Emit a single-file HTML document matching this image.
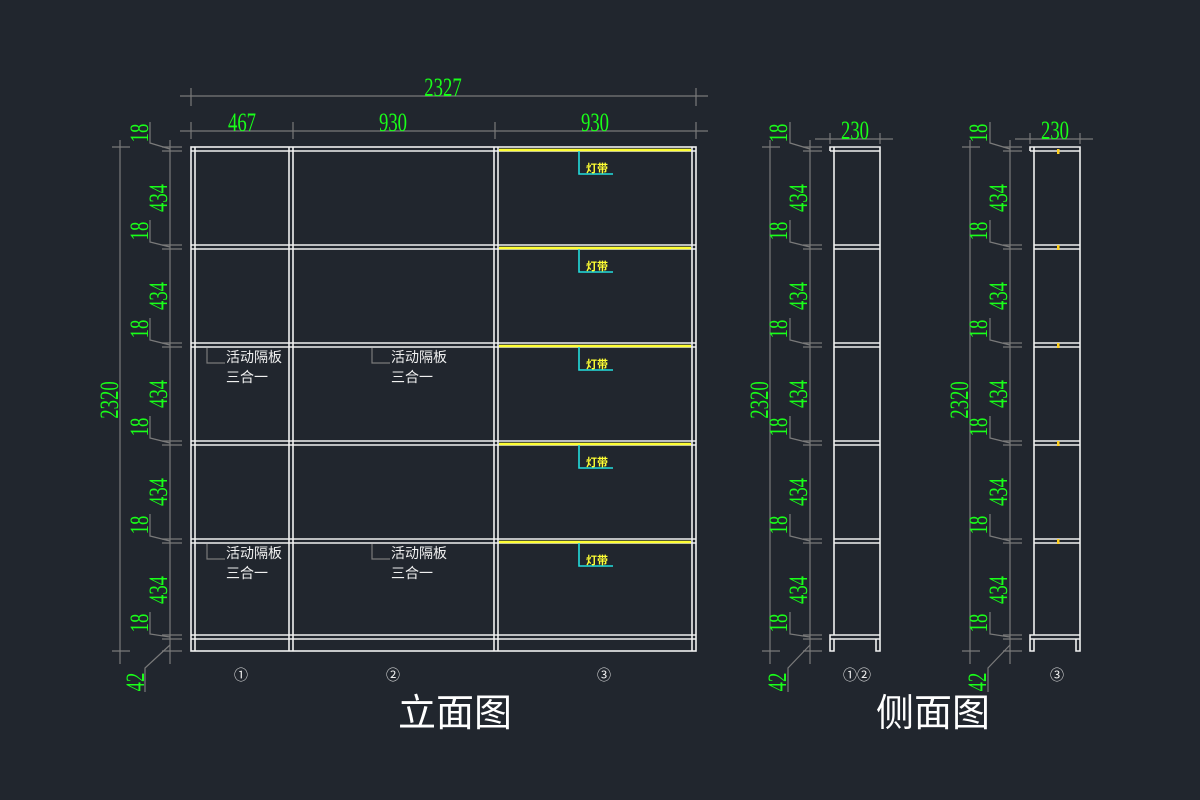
<!DOCTYPE html>
<html><head><meta charset="utf-8"><style>
html,body{margin:0;padding:0;background:#21262e;}
svg{display:block}
.w{stroke:#f0f0f0;stroke-width:1.6;fill:none}
.g{stroke:#7a7a7a;stroke-width:1.2;fill:none}
.n{fill:#19ff19;font-family:"Liberation Serif",serif;font-size:26px}
.c{fill:#f0f0f0;font-family:"Liberation Sans","Noto Sans CJK SC",sans-serif;font-size:14px}
.y{stroke:#ffff33;stroke-width:2.4}
.cy{stroke:#22dddd;stroke-width:1.6;fill:none}
.yt{fill:#ffff33;font-family:"Liberation Sans","Noto Sans CJK SC",sans-serif;font-size:11px;font-weight:bold}
.t{fill:#ffffff;font-family:"Liberation Sans","Noto Sans CJK SC",sans-serif;font-size:38px}
</style></head><body>
<svg width="1200" height="800" viewBox="0 0 1200 800" xmlns="http://www.w3.org/2000/svg">
<rect width="1200" height="800" fill="#21262e"/>

<g class="g">
<line x1="180" y1="96" x2="708" y2="96"/><line x1="191" y1="88" x2="191" y2="106"/><line x1="696" y1="88" x2="696" y2="106"/>
<line x1="180" y1="131" x2="708" y2="131"/>
<line x1="191" y1="122" x2="191" y2="139"/><line x1="293" y1="122" x2="293" y2="139"/><line x1="495" y1="122" x2="495" y2="139"/><line x1="696" y1="122" x2="696" y2="139"/>
</g>
<g class="n" text-anchor="middle">
<text transform="translate(443,96) scale(0.72,1)">2327</text>
<text transform="translate(242,131) scale(0.72,1)">467</text>
<text transform="translate(393,131) scale(0.72,1)">930</text>
<text transform="translate(595,131) scale(0.72,1)">930</text>
</g>

<g class="g">
<line x1="120" y1="140" x2="120" y2="664"/><line x1="112" y1="147" x2="130" y2="147"/><line x1="112" y1="651" x2="130" y2="651"/>
<line x1="170" y1="140" x2="170" y2="664"/>
<line x1="162" y1="147" x2="182" y2="147"/><line x1="162" y1="151" x2="182" y2="151"/>
<line x1="162" y1="245" x2="182" y2="245"/><line x1="162" y1="249" x2="182" y2="249"/>
<line x1="162" y1="343" x2="182" y2="343"/><line x1="162" y1="347" x2="182" y2="347"/>
<line x1="162" y1="441" x2="182" y2="441"/><line x1="162" y1="445" x2="182" y2="445"/>
<line x1="162" y1="539" x2="182" y2="539"/><line x1="162" y1="543" x2="182" y2="543"/>
<line x1="162" y1="635" x2="182" y2="635"/><line x1="162" y1="639" x2="182" y2="639"/><line x1="162" y1="651" x2="182" y2="651"/>
<polyline points="150,122 150,143 170,149"/><polyline points="150,220 150,242 170,247"/><polyline points="150,318 150,340 170,345"/>
<polyline points="150,416 150,438 170,443"/><polyline points="150,514 150,536 170,541"/><polyline points="150,612 150,634 170,637"/>
<polyline points="145,692 145,668 170,645"/>
</g>
<g class="n" text-anchor="middle">
<text transform="translate(148,133) rotate(-90) scale(0.72,1)">18</text>
<text transform="translate(167,198) rotate(-90) scale(0.72,1)">434</text>
<text transform="translate(148,231) rotate(-90) scale(0.72,1)">18</text>
<text transform="translate(167,296) rotate(-90) scale(0.72,1)">434</text>
<text transform="translate(148,329) rotate(-90) scale(0.72,1)">18</text>
<text transform="translate(167,394) rotate(-90) scale(0.72,1)">434</text>
<text transform="translate(148,427) rotate(-90) scale(0.72,1)">18</text>
<text transform="translate(167,492) rotate(-90) scale(0.72,1)">434</text>
<text transform="translate(148,525) rotate(-90) scale(0.72,1)">18</text>
<text transform="translate(167,590) rotate(-90) scale(0.72,1)">434</text>
<text transform="translate(148,623) rotate(-90) scale(0.72,1)">18</text>
<text transform="translate(144,682) rotate(-90) scale(0.72,1)">42</text>
<text transform="translate(118,400) rotate(-90) scale(0.72,1)">2320</text>
</g>

<g class="w">
<rect x="191" y="147" width="505" height="504"/>
<line x1="195" y1="147" x2="195" y2="651"/><line x1="289" y1="147" x2="289" y2="651"/><line x1="293" y1="147" x2="293" y2="651"/>
<line x1="494" y1="147" x2="494" y2="651"/><line x1="498" y1="147" x2="498" y2="651"/><line x1="692" y1="147" x2="692" y2="651"/>
<line x1="191" y1="151" x2="696" y2="151"/>
<line x1="191" y1="245" x2="696" y2="245"/><line x1="191" y1="249" x2="696" y2="249"/>
<line x1="191" y1="343" x2="696" y2="343"/><line x1="191" y1="347" x2="696" y2="347"/>
<line x1="191" y1="441" x2="696" y2="441"/><line x1="191" y1="445" x2="696" y2="445"/>
<line x1="191" y1="539" x2="696" y2="539"/><line x1="191" y1="543" x2="696" y2="543"/>
<line x1="191" y1="635" x2="696" y2="635"/><line x1="191" y1="639" x2="696" y2="639"/>
</g>
<g class="y">
<line x1="499" y1="150" x2="691" y2="150"/><line x1="499" y1="248" x2="691" y2="248"/><line x1="499" y1="346" x2="691" y2="346"/>
<line x1="499" y1="444" x2="691" y2="444"/><line x1="499" y1="542" x2="691" y2="542"/>
</g>
<g class="cy">
<polyline points="579,151 579,174 613,174"/><polyline points="579,249 579,272 613,272"/><polyline points="579,347 579,370 613,370"/>
<polyline points="579,445 579,468 613,468"/><polyline points="579,543 579,566 613,566"/>
</g>
<g class="yt">
<text x="586" y="172">灯带</text><text x="586" y="270">灯带</text><text x="586" y="368">灯带</text><text x="586" y="466">灯带</text><text x="586" y="564">灯带</text>
</g>
<g class="g">
<polyline points="207,348 207,363 225,363"/><polyline points="372,348 372,363 390,363"/>
<polyline points="207,544 207,559 225,559"/><polyline points="372,544 372,559 390,559"/>
</g>
<g class="c">
<text x="226" y="362">活动隔板</text><text x="226" y="382">三合一</text>
<text x="391" y="362">活动隔板</text><text x="391" y="382">三合一</text>
<text x="226" y="558">活动隔板</text><text x="226" y="578">三合一</text>
<text x="391" y="558">活动隔板</text><text x="391" y="578">三合一</text>
</g>
<g class="c" text-anchor="middle" font-size="14">
<text x="241" y="680">①</text><text x="393" y="680">②</text><text x="604" y="680">③</text>
<text x="857" y="680">①②</text><text x="1057" y="680">③</text>
</g>
<text class="t" x="455" y="726" text-anchor="middle">立面图</text>
<text class="t" x="933" y="726" text-anchor="middle">侧面图</text>

<g id="sv">
<g class="g">
<line x1="815" y1="139" x2="893" y2="139"/><line x1="830" y1="133" x2="830" y2="144"/><line x1="880" y1="133" x2="880" y2="144"/>
<line x1="770" y1="140" x2="770" y2="664"/><line x1="762" y1="147" x2="780" y2="147"/><line x1="762" y1="651" x2="780" y2="651"/>
<line x1="810" y1="140" x2="810" y2="664"/>
<line x1="803" y1="147" x2="822" y2="147"/><line x1="803" y1="151" x2="822" y2="151"/>
<line x1="803" y1="245" x2="822" y2="245"/><line x1="803" y1="249" x2="822" y2="249"/>
<line x1="803" y1="343" x2="822" y2="343"/><line x1="803" y1="347" x2="822" y2="347"/>
<line x1="803" y1="441" x2="822" y2="441"/><line x1="803" y1="445" x2="822" y2="445"/>
<line x1="803" y1="539" x2="822" y2="539"/><line x1="803" y1="543" x2="822" y2="543"/>
<line x1="803" y1="635" x2="822" y2="635"/><line x1="803" y1="639" x2="822" y2="639"/><line x1="803" y1="651" x2="822" y2="651"/>
<polyline points="790,122 790,143 810,149"/><polyline points="790,220 790,242 810,247"/><polyline points="790,318 790,340 810,345"/>
<polyline points="790,416 790,438 810,443"/><polyline points="790,514 790,536 810,541"/><polyline points="790,612 790,634 810,637"/>
<polyline points="788,692 788,668 810,645"/>
</g>
<g class="n" text-anchor="middle">
<text transform="translate(855,139) scale(0.72,1)">230</text>
<text transform="translate(787,133) rotate(-90) scale(0.72,1)">18</text>
<text transform="translate(807,198) rotate(-90) scale(0.72,1)">434</text>
<text transform="translate(787,231) rotate(-90) scale(0.72,1)">18</text>
<text transform="translate(807,296) rotate(-90) scale(0.72,1)">434</text>
<text transform="translate(787,329) rotate(-90) scale(0.72,1)">18</text>
<text transform="translate(807,394) rotate(-90) scale(0.72,1)">434</text>
<text transform="translate(787,427) rotate(-90) scale(0.72,1)">18</text>
<text transform="translate(807,492) rotate(-90) scale(0.72,1)">434</text>
<text transform="translate(787,525) rotate(-90) scale(0.72,1)">18</text>
<text transform="translate(807,590) rotate(-90) scale(0.72,1)">434</text>
<text transform="translate(787,623) rotate(-90) scale(0.72,1)">18</text>
<text transform="translate(786,682) rotate(-90) scale(0.72,1)">42</text>
<text transform="translate(768,400) rotate(-90) scale(0.72,1)">2320</text>
</g>
<g class="w">
<polyline points="830,151 830,147 880,147 880,651 876,651 876,639"/>
<line x1="830" y1="151" x2="880" y2="151"/>
<line x1="834" y1="147" x2="834" y2="635"/>
<line x1="834" y1="245" x2="880" y2="245"/><line x1="834" y1="249" x2="880" y2="249"/>
<line x1="834" y1="343" x2="880" y2="343"/><line x1="834" y1="347" x2="880" y2="347"/>
<line x1="834" y1="441" x2="880" y2="441"/><line x1="834" y1="445" x2="880" y2="445"/>
<line x1="834" y1="539" x2="880" y2="539"/><line x1="834" y1="543" x2="880" y2="543"/>
<polyline points="834,635 830,635 830,651 834,651 834,639"/>
<line x1="834" y1="635" x2="880" y2="635"/><line x1="830" y1="639" x2="880" y2="639"/>
</g>
</g>
<use href="#sv" transform="translate(200,0)"/>
<g fill="#ffd020">
<rect x="1057" y="149" width="2.5" height="5"/><rect x="1057" y="245" width="2.5" height="5"/><rect x="1057" y="343" width="2.5" height="5"/>
<rect x="1057" y="441" width="2.5" height="5"/><rect x="1057" y="539" width="2.5" height="5"/>
</g>
</svg>
</body></html>
